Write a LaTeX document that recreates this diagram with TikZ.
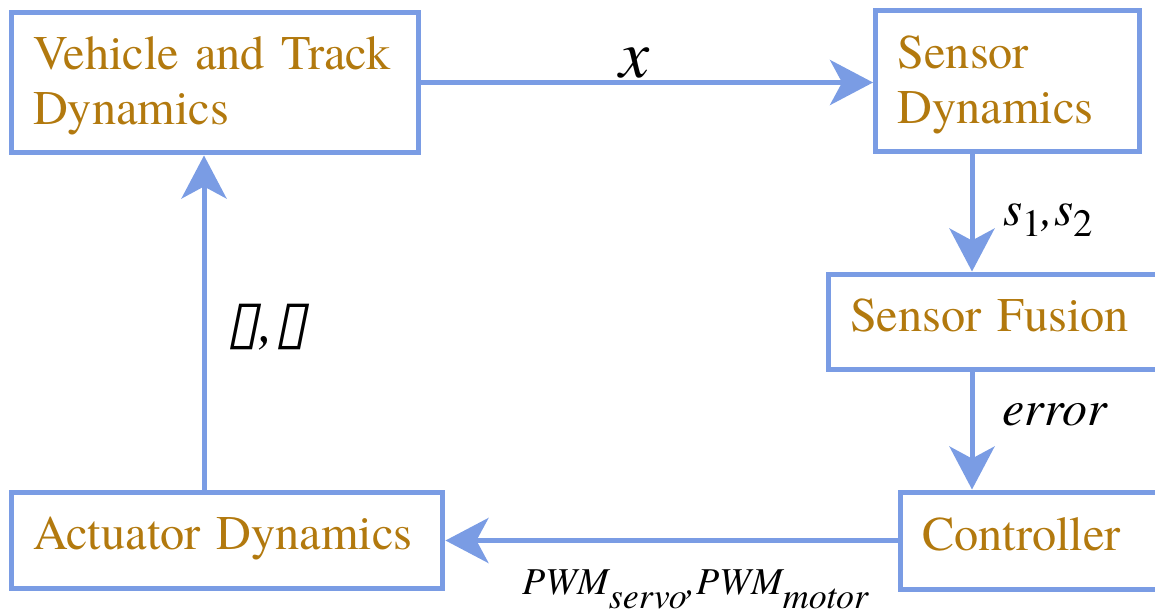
\documentclass[tikz,border=0pt]{standalone}
\usepackage{fontspec}
\setmainfont{texgyretermes}[
  Extension=.otf,
  UprightFont=*-regular,
  ItalicFont=*-italic,
  BoldFont=*-bold,
  BoldItalicFont=*-bolditalic]
\newfontfamily\tofufont[FakeSlant=0.2]{DejaVu Sans}
\usetikzlibrary{arrows.meta}

\definecolor{flowblue}{RGB}{122,156,228}
\definecolor{blocktext}{RGB}{178,121,14}

\begin{document}
\begin{tikzpicture}[
  x=0.02cm,
  y=-0.02cm,
  block/.style={
    draw=flowblue,
    line width=0.1cm,
    text=blocktext,
    font=\fontsize{27.5}{31.5}\selectfont,
    align=left,
    inner xsep=0.44cm,
    inner ysep=0pt
  },
  one line/.style={
    text depth=0.27cm
  },
  two lines/.style={
    text height=0.8cm
  },
  flow/.style={
    flowblue,
    line width=0.1cm,
    -{Stealth[length=0.86cm,width=0.9cm,inset=0.24cm]}
  },
  signal/.style={
    inner sep=0pt,
    anchor=base west,
    font=\itshape
  },
]
\useasboundingbox (0,0) rectangle (1155,613);
\clip (0,0) rectangle (1155,613);

% blocks
\node[block, two lines, text width=7.28cm, minimum height=2.82cm] (vehicle) at (215,82.5) {Vehicle and Track\\Dynamics};
\node[block, two lines, text width=4.41cm, minimum height=2.84cm] (sensdyn) at (1007.75,81) {Sensor\\Dynamics};
\node[block, one line, text width=5.8cm, minimum height=1.9cm] (fusion) at (995,321.5) {Sensor Fusion};
\node[block, one line, text width=4.36cm, minimum height=1.94cm] (control) at (1031,540.5) {Controller};
\node[block, one line, text width=7.76cm, minimum height=1.92cm] (actuator) at (227,540) {Actuator Dynamics};

% columns of the vertical links
\coordinate (rcol) at (972,0);
\coordinate (lcol) at (204,0);

% links
\draw[flow] (vehicle.east) -- (vehicle.east -| sensdyn.west);
\draw[flow] (rcol |- sensdyn.south) -- (rcol |- fusion.north);
\draw[flow] (rcol |- fusion.south) -- (rcol |- control.north);
\draw[flow] (control.west) -- (control.west -| actuator.east);
\draw[flow] (lcol |- actuator.north) -- (lcol |- vehicle.south);

% signals
\node[signal, anchor=base] (xlab) at (635,77) {\fontsize{38.5}{40}\selectfont x};
\node[signal] (slab) at (1003,225) {\fontsize{28}{30}\selectfont s\raisebox{-6.8pt}{\fontsize{22}{24}\selectfont\upshape 1},s\raisebox{-6.8pt}{\fontsize{22}{24}\selectfont\upshape 2}};
\node[signal] (errlab) at (1002,425) {\fontsize{28.5}{30}\selectfont error};
\node[signal] (pwmlab) at (522,594) {\fontsize{21.6}{24}\selectfont PWM\raisebox{-8pt}{\fontsize{20.5}{22}\selectfont servo},PWM\raisebox{-8pt}{\fontsize{20.5}{22}\selectfont motor}};
\node[inner sep=0pt] (anglab) at (267,327) {\fontsize{34}{36}\selectfont\tofufont\bfseries ▯{\rmfamily\itshape\mdseries ,}▯};
\end{tikzpicture}
\end{document}
